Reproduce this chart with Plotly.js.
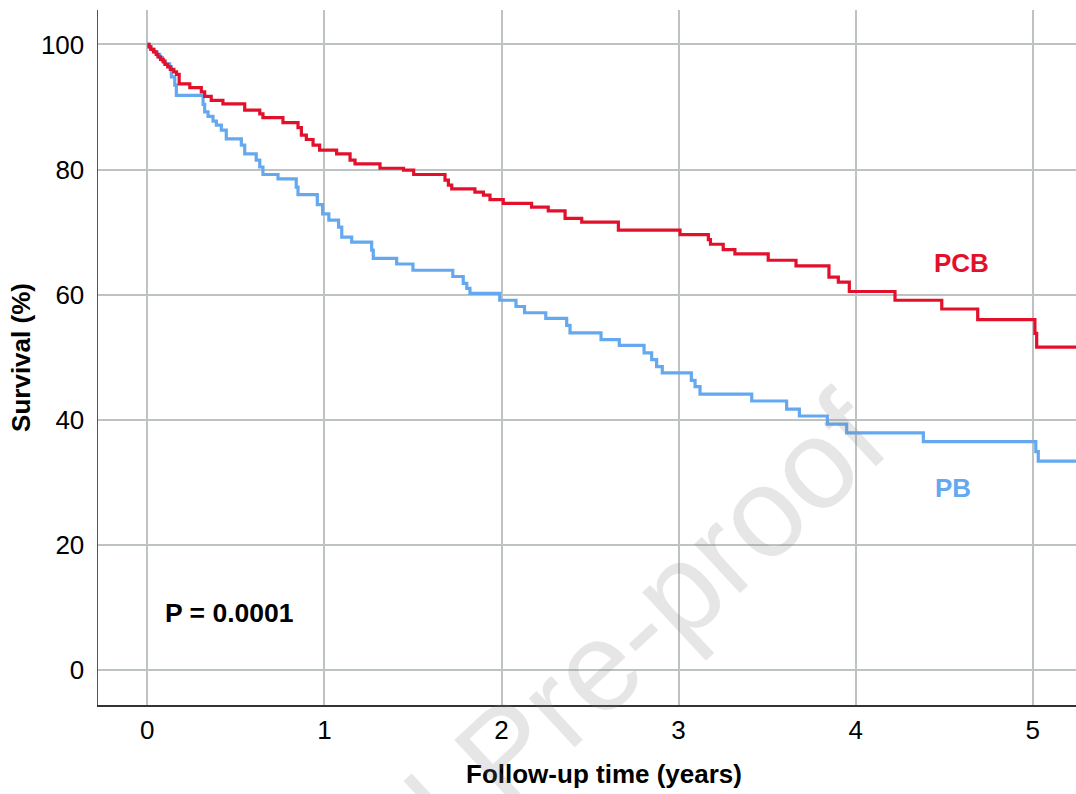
<!DOCTYPE html>
<html>
<head>
<meta charset="utf-8">
<script src="https://cdn.plot.ly/plotly-3.0.1.min.js"></script>
<style>
html, body { margin: 0; padding: 0; background: #fff; overflow: hidden; }
#chart { width: 1110px; height: 794px; }
</style>
</head>
<body>
<div id="chart"></div>
<script>
// Kaplan-Meier estimates (time in years, survival in %)
var pcbTime = [0, 0.01, 0.02, 0.035, 0.05, 0.06, 0.075, 0.09, 0.10, 0.115, 0.13, 0.15, 0.165,
  0.18, 0.24, 0.305, 0.324, 0.361, 0.427, 0.55, 0.635, 0.653, 0.766, 0.851, 0.87, 0.898, 0.936,
  0.973, 1.069, 1.145, 1.173, 1.314, 1.447, 1.504, 1.681, 1.70, 1.719, 1.85, 1.898, 1.935, 2.01,
  2.17, 2.264, 2.359, 2.453, 2.66, 3.008, 3.168, 3.18, 3.252, 3.318, 3.506, 3.663, 3.849, 3.902,
  3.964, 4.222, 4.486, 4.689, 5.012, 5.022, 5.26];
var pcbSurv = [100, 99.6, 99.2, 98.8, 98.4, 98.0, 97.6, 97.2, 96.8, 96.4, 96.0, 95.6, 95.2,
  93.7, 93.1, 92.4, 91.7, 91.05, 90.5, 89.5, 88.9, 88.3, 87.5, 86.7, 85.5, 84.8, 83.9,
  83.1, 82.5, 81.5, 80.9, 80.2, 79.9, 79.2, 78.3, 77.5, 76.9, 76.4, 75.9, 75.2, 74.6,
  74.0, 73.4, 72.2, 71.6, 70.3, 69.6, 68.8, 68.05, 67.2, 66.5, 65.5, 64.6, 62.8, 62.0,
  60.5, 59.1, 57.7, 56.0, 53.8, 51.6, 51.6];

var pbTime = [0, 0.01, 0.02, 0.04, 0.055, 0.07, 0.085, 0.10, 0.126, 0.136, 0.155, 0.164,
  0.315, 0.324, 0.343, 0.371, 0.39, 0.418, 0.446, 0.531, 0.55, 0.615, 0.635, 0.653, 0.738,
  0.841, 0.851, 0.96, 0.99, 1.025, 1.08, 1.098, 1.154, 1.267, 1.276, 1.408, 1.50, 1.725,
  1.784, 1.804, 1.822, 1.99, 2.082, 2.13, 2.25, 2.368, 2.387, 2.562, 2.665, 2.805, 2.848,
  2.876, 2.908, 3.072, 3.093, 3.121, 3.413, 3.61, 3.682, 3.84, 3.949, 4.382, 5.017, 5.031, 5.26];
var pbSurv = [100, 99.6, 99.2, 98.8, 98.4, 97.9, 97.4, 96.9, 96.4, 94.8, 93.5, 91.85,
  90.4, 89.2, 88.5, 87.75, 87.1, 86.3, 84.9, 83.9, 82.5, 81.5, 80.4, 79.2, 78.5,
  77.2, 76.0, 74.4, 72.9, 71.9, 70.8, 69.2, 68.4, 67.1, 65.8, 64.9, 63.9, 62.9,
  61.8, 61.0, 60.2, 59.1, 58.1, 57.1, 56.2, 55.1, 53.9, 52.8, 51.9, 50.7, 49.6,
  48.5, 47.5, 46.3, 45.3, 44.1, 43.0, 41.7, 40.6, 39.3, 37.9, 36.5, 34.9, 33.4, 33.4];

var xTicks = [0, 1, 2, 3, 4, 5];
var yTicks = [0, 20, 40, 60, 80, 100];
var groupNames = ['PCB', 'PB'];
var pText = 'P = 0.0001';

var RED = '#E3102C';
var BLUE = '#64A9F0';
var FONT = 'Liberation Sans, Arial, Helvetica, sans-serif';

var traces = [
  { x: pbTime, y: pbSurv, name: groupNames[1], type: 'scatter', mode: 'lines',
    line: { shape: 'hv', color: BLUE, width: 3.2 } },
  { x: pcbTime, y: pcbSurv, name: groupNames[0], type: 'scatter', mode: 'lines',
    line: { shape: 'hv', color: RED, width: 3.2 } }
];

var layout = {
  width: 1110, height: 794,
  margin: { l: 98, r: 0, t: 10, b: 89 },
  paper_bgcolor: '#ffffff', plot_bgcolor: '#ffffff',
  showlegend: false,
  hovermode: false,
  font: { family: FONT, size: 26, color: '#000' },
  xaxis: {
    range: [-0.2784, 5.436],
    tickvals: xTicks, ticktext: xTicks.map(String),
    showgrid: true, gridcolor: '#BCC3C2', gridwidth: 2,
    zeroline: false, showline: true, linecolor: '#333', linewidth: 1.5,
    ticks: '', ticklabelstandoff: 1,
    tickfont: { family: FONT, size: 26, color: '#000' },
    title: { text: '<b>Follow-up time (years)</b>', font: { family: FONT, size: 26, color: '#000' }, standoff: 21 }
  },
  yaxis: {
    range: [-5.6, 105.5],
    tickvals: yTicks, ticktext: yTicks.map(String),
    showgrid: true, gridcolor: '#BCC3C2', gridwidth: 2,
    zeroline: false, showline: true, linecolor: '#555', linewidth: 1.5,
    ticks: '', ticklabelstandoff: 7,
    tickfont: { family: FONT, size: 26, color: '#000' },
    title: { text: '<b>Survival (%)</b>', font: { family: FONT, size: 26, color: '#000' }, standoff: 3 }
  },
  annotations: [
    { x: 4.60, y: 65.0, xref: 'x', yref: 'y', text: '<b>' + groupNames[0] + '</b>', showarrow: false,
      font: { family: FONT, size: 26, color: RED }, xanchor: 'center', yanchor: 'middle' },
    { x: 4.548, y: 29.15, xref: 'x', yref: 'y', text: '<b>' + groupNames[1] + '</b>', showarrow: false,
      font: { family: FONT, size: 26, color: BLUE }, xanchor: 'center', yanchor: 'middle' },
    { x: 0.464, y: 9.1, xref: 'x', yref: 'y', text: '<b>' + pText + '</b>', showarrow: false,
      font: { family: FONT, size: 26.5, color: '#000' }, xanchor: 'center', yanchor: 'middle' },
    { x: 0.4022, y: -0.0676, xref: 'paper', yref: 'paper', text: 'Journal Pre-proof', showarrow: false,
      textangle: -43, font: { family: FONT, size: 127, color: 'rgba(128,128,128,0.2)' },
      xanchor: 'center', yanchor: 'middle' }
  ]
};

Plotly.newPlot('chart', traces, layout, { staticPlot: true, displayModeBar: false });
</script>
</body>
</html>
